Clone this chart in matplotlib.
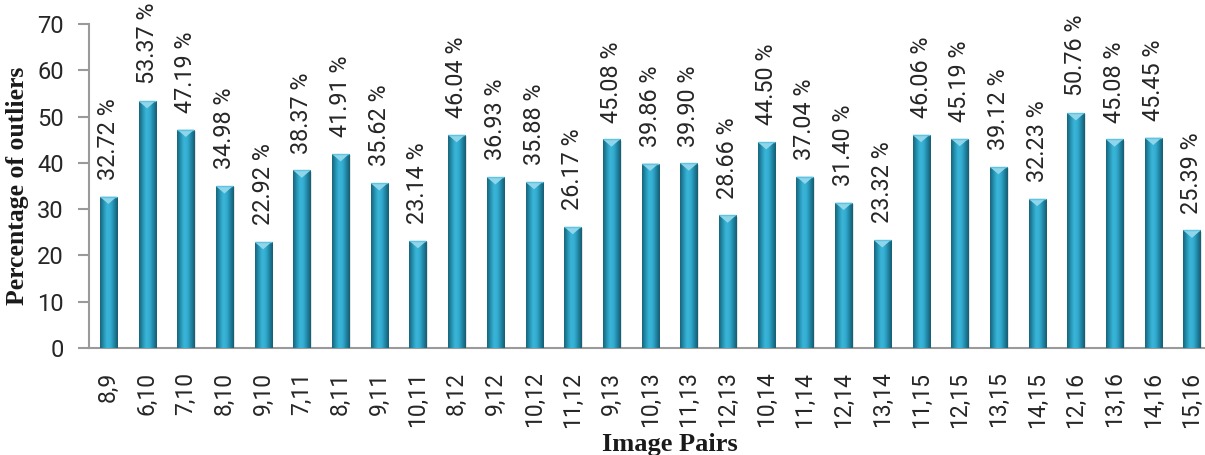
import numpy as np
import matplotlib
matplotlib.use("Agg")
import matplotlib.pyplot as plt
from matplotlib.colors import LinearSegmentedColormap
from matplotlib.patches import Polygon

pairs = ["8,9", "6,10", "7,10", "8,10", "9,10", "7,11", "8,11", "9,11", "10,11",
         "8,12", "9,12", "10,12", "11,12", "9,13", "10,13", "11,13", "12,13",
         "10,14", "11,14", "12,14", "13,14", "11,15", "12,15", "13,15", "14,15",
         "12,16", "13,16", "14,16", "15,16"]
outliers = [32.72, 53.37, 47.19, 34.98, 22.92, 38.37, 41.91, 35.62, 23.14,
            46.04, 36.93, 35.88, 26.17, 45.08, 39.86, 39.90, 28.66,
            44.50, 37.04, 31.40, 23.32, 46.06, 45.19, 39.12, 32.23,
            50.76, 45.08, 45.45, 25.39]

W, H = 1205, 455
fig = plt.figure(figsize=(W / 100, H / 100), dpi=100)
x0 = 89
step = 38.7
ax = fig.add_axes([x0 / W, (H - 348) / H, 29 * step / W, (348 - 24) / H])

x = np.arange(len(pairs))
bw = 0.44
sans = "Roboto"
bars = ax.bar(x, outliers, width=bw, color="#2a9dbd", zorder=2)

# cylinder-like horizontal shading inside each bar
cyl = LinearSegmentedColormap.from_list(
    "cyl", ["#186378", "#2592b2", "#3ab6d9", "#33acd0", "#2085a3", "#155c70"])
grad = np.linspace(0, 1, 64).reshape(1, -1)
for b, v in zip(bars, outliers):
    bx = b.get_x()
    # soft shadow on the right side
    ax.bar(bx + bw / 2 + 0.04, v - 0.3, width=bw, bottom=0, color="#c8c8c8",
           alpha=0.5, zorder=1, linewidth=0)
    im = ax.imshow(grad, cmap=cyl, aspect="auto",
                   extent=(bx, bx + bw, 0, v), zorder=3, interpolation="bicubic")
    im.set_clip_path(b)
    b.set_alpha(0)
    # lighter bevel cap on top
    cap = Polygon([(bx, v), (bx + bw, v), (bx + bw * 0.5, v - 1.6)],
                  closed=True, facecolor="#8fd6ea", edgecolor="none", zorder=4)
    ax.add_patch(cap)
    ax.plot([bx, bx + bw], [v, v], color="#5fc4e0", lw=1.0, zorder=4,
            solid_capstyle="butt")
    ax.text(b.get_x() + bw / 2, v + 3.6, f"{v:.2f} %", rotation=90,
            ha="center", va="bottom", fontsize=16.8, family=sans,
            color="#262626", zorder=5)

ax.set_xlim(-0.5, len(pairs) - 0.5)
ax.set_ylim(0, 70)
ax.set_yticks(range(0, 71, 10))
ax.set_xticks(x)
ax.set_xticklabels(pairs, rotation=90, family=sans, fontsize=16.5,
                   color="#262626")
for lab in ax.get_yticklabels():
    lab.set_family(sans)
    lab.set_fontsize(17)
    lab.set_color("#262626")

for side in ("top", "right"):
    ax.spines[side].set_visible(False)
for side in ("left", "bottom"):
    ax.spines[side].set_color("#9a9a9a")
    ax.spines[side].set_linewidth(1.5)
ax.tick_params(axis="y", length=8, width=1.5, color="#9a9a9a", pad=10)
ax.tick_params(axis="x", length=0, pad=17)

fig.text(18 / W, 1 - 186 / H, "Percentage of outliers", rotation=90,
         ha="center", va="center", fontsize=18.5, fontweight="bold",
         family="Liberation Serif", color="#1a1a1a")
fig.text(670 / W, 1 - 451 / H, "Image Pairs", ha="center", va="baseline",
         fontsize=19, fontweight="bold", family="Liberation Serif",
         color="#1a1a1a")

fig.savefig("out.png", dpi=100)
